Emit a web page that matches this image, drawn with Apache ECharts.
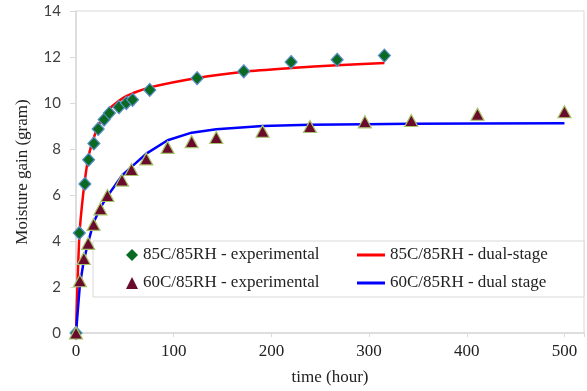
<!DOCTYPE html>
<html>
<head>
<meta charset="utf-8">
<script src="https://cdn.jsdelivr.net/npm/echarts@6/dist/echarts.min.js"></script>
<style>
  html, body { margin: 0; padding: 0; background: #fff; }
  #chart { width: 587px; height: 391px; }
</style>
</head>
<body>
<div id="chart"></div>
<script>
// 85C/85RH experimental points (time in hours, gain in grams)
const hot85Time = [0, 3.4, 9.1, 12.9, 18.3, 22.7, 28.8, 34.2, 44, 51.5, 57.9, 75.5, 124, 171.7, 220.2, 267.3, 315.7]
const hot85Gain = [0, 4.35, 6.48, 7.53, 8.24, 8.87, 9.28, 9.56, 9.82, 10.0, 10.14, 10.57, 11.08, 11.38, 11.78, 11.88, 12.06]

// 85C/85RH dual-stage model
const hot85ModelTime = [0, 3.4, 6, 9.1, 12.9, 18.3, 22.7, 28.8, 34.2, 44, 51.5, 57.9, 75.5, 124, 171.7, 220.2, 267.3, 315.7]
const hot85ModelGain = [0, 4.2, 5.5, 6.65, 7.7, 8.5, 9.0, 9.45, 9.75, 10.1, 10.3, 10.42, 10.68, 11.09, 11.36, 11.52, 11.64, 11.74]

// 60C/85RH experimental points
const warm60Time = [0, 4, 8, 12.5, 18, 25, 32.2, 47.1, 56.8, 72, 93.8, 118.4, 143.6, 191, 239.5, 295.7, 343.2, 411, 500]
const warm60Gain = [0, 2.27, 3.24, 3.9, 4.72, 5.4, 5.98, 6.65, 7.11, 7.57, 8.07, 8.32, 8.5, 8.77, 8.98, 9.18, 9.24, 9.51, 9.62]

// 60C/85RH dual stage model
const warm60ModelTime = [0, 4, 8, 12.5, 18, 25, 32.2, 47.1, 56.8, 72, 93.8, 118.4, 143.6, 191, 239.5, 295.7, 343.2, 411, 500]
const warm60ModelGain = [0, 2.1, 3.15, 3.95, 4.8, 5.45, 5.95, 6.85, 7.22, 7.8, 8.38, 8.71, 8.86, 9.0, 9.05, 9.08, 9.1, 9.11, 9.12]

const zip = (xs, ys) => xs.map((x, i) => [x, ys[i]])

const serif = '"Liberation Serif", "Times New Roman", serif'
const axisGray = '#d9d9d9'

const chart = echarts.init(document.getElementById('chart'))

chart.setOption({
  animation: false,
  backgroundColor: '#fff',
  grid: {
    left: 76,
    right: -1,
    top: 11,
    bottom: 56,
    show: true,
    borderColor: axisGray,
    borderWidth: 1,
  },
  xAxis: {
    type: 'value',
    min: 0,
    max: 520,
    interval: 100,
    name: 'time (hour)',
    nameLocation: 'middle',
    nameGap: 36,
    nameTextStyle: { fontFamily: serif, fontSize: 17, color: '#222' },
    axisLine: { lineStyle: { color: axisGray, width: 1.5 } },
    axisTick: { show: true, length: 4, lineStyle: { color: axisGray } },
    axisLabel: {
      margin: 10,
      fontFamily: serif,
      fontSize: 17,
      color: '#222',
      formatter: (v) => (v % 100 === 0 ? String(v) : ''),
    },
    splitLine: { show: false },
  },
  yAxis: {
    type: 'value',
    min: 0,
    max: 14,
    interval: 2,
    name: 'Moisture gain (gram)',
    nameLocation: 'middle',
    nameGap: 45,
    nameRotate: 90,
    nameTextStyle: { fontFamily: serif, fontSize: 17, color: '#222' },
    axisLine: { show: true, lineStyle: { color: axisGray, width: 1.5 } },
    axisTick: { show: true, length: 6, lineStyle: { color: axisGray } },
    axisLabel: {
      margin: 15,
      fontFamily: 'Lato, "Open Sans", sans-serif',
      fontSize: 15,
      color: '#404040',
    },
    splitLine: { show: false },
  },
  graphic: [
    {
      type: 'rect',
      z: 3,
      shape: { x: 93, y: 241, width: 491, height: 56 },
      style: { fill: '#fff', stroke: axisGray, lineWidth: 1 },
    },
  ],
  legend: [
    {
      data: [
        { name: '85C/85RH - experimental', icon: 'diamond' },
        { name: '60C/85RH - experimental', icon: 'triangle' },
      ],
      orient: 'vertical',
      left: 121,
      top: 241,
      itemWidth: 12,
      itemHeight: 12,
      itemGap: 10,
      z: 5,
      itemStyle: { borderWidth: 0, opacity: 1 },
      textStyle: { fontFamily: serif, fontSize: 17, lineHeight: 18, color: '#222' },
    },
    {
      data: [
        { name: '85C/85RH - dual-stage', icon: 'rect' },
        { name: '60C/85RH - dual stage', icon: 'rect' },
      ],
      orient: 'vertical',
      left: 352,
      top: 241,
      itemWidth: 28,
      itemHeight: 3,
      itemGap: 10,
      z: 5,
      itemStyle: { borderWidth: 0 },
      textStyle: { fontFamily: serif, fontSize: 17, lineHeight: 18, color: '#222' },
    },
  ],
  series: [
    {
      name: '85C/85RH - dual-stage',
      type: 'line',
      data: zip(hot85ModelTime, hot85ModelGain),
      symbol: 'none',
      smooth: 0.3,
      lineStyle: { color: '#ff0000', width: 2.5 },
      itemStyle: { color: '#ff0000' },
      z: 2,
    },
    {
      name: '60C/85RH - dual stage',
      type: 'line',
      data: zip(warm60ModelTime, warm60ModelGain),
      symbol: 'none',
      lineStyle: { color: '#0000ff', width: 2.5 },
      itemStyle: { color: '#0000ff' },
      z: 2,
    },
    {
      name: '85C/85RH - experimental',
      type: 'scatter',
      data: zip(hot85Time, hot85Gain),
      symbol: 'diamond',
      symbolSize: [12, 13],
      itemStyle: { color: '#0b6a22', borderColor: '#5a8fc9', borderWidth: 1.2, opacity: 1 },
      z: 3,
    },
    {
      name: '60C/85RH - experimental',
      type: 'scatter',
      data: zip(warm60Time, warm60Gain),
      symbol: 'triangle',
      symbolSize: [13, 12],
      itemStyle: { color: '#6a0b2e', borderColor: '#a7c36a', borderWidth: 1.2, opacity: 1 },
      z: 3,
    },
  ],
})
</script>
</body>
</html>
